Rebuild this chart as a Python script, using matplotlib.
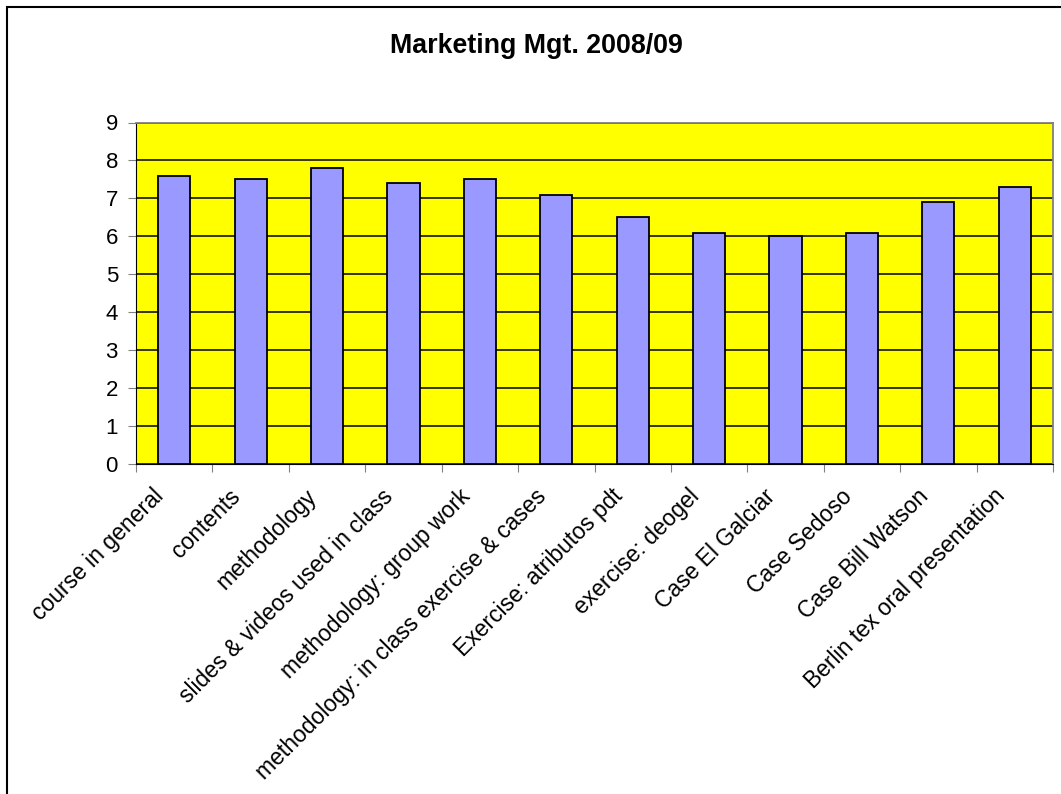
import numpy as np
import matplotlib.pyplot as plt
import matplotlib.transforms as mtransforms
from matplotlib.patches import Rectangle

plt.rcParams['font.family'] = ['Liberation Sans', 'DejaVu Sans']

categories = [
    'course in general', 'contents', 'methodology', 'slides & videos used in class',
    'methodology: group work', 'methodology: in class exercise & cases',
    'Exercise: atributos pdt', 'exercise: deogel', 'Case El Galciar',
    'Case Sedoso', 'Case Bill Watson', 'Berlin tex oral presentation',
]
scores = [7.6, 7.5, 7.8, 7.4, 7.5, 7.1, 6.5, 6.1, 6.0, 6.1, 6.9, 7.3]
yticks = list(range(0, 10))

fig = plt.figure(figsize=(10.61, 7.94), dpi=100)
fig.patch.set_facecolor('white')
# chart frame (left and top edges show, the rest runs off the canvas)
fig.add_artist(Rectangle((7 / 1061, -0.05), 1.2, 1 - 7 / 794 + 0.05,
                         transform=fig.transFigure, fill=False,
                         edgecolor='black', linewidth=1.5))

ax = fig.add_axes([136 / 1061, 1 - 464 / 794, (1053 - 136) / 1061, (464 - 122.5) / 794])
ax.set_facecolor('#FFFF00')

x = np.arange(len(categories))
ax.bar(x, scores, width=0.42, color='#9999FF', edgecolor='black', linewidth=1.3, zorder=3)

ax.set_xlim(-0.5, len(categories) - 0.5)
ax.set_ylim(0, 9)
ax.set_yticks(yticks)
ax.yaxis.grid(True, color='black', linewidth=1.1, zorder=1)
ax.set_axisbelow(True)

# tick marks sit between categories, labels under each bar
ax.set_xticks(np.arange(-0.5, len(categories)), minor=False)
ax.set_xticklabels([])
ax.set_xticks(x, minor=True)
ax.set_xticklabels(categories, minor=True, rotation=45, ha='right', va='baseline',
                   rotation_mode='anchor', fontsize=16.5)
ax.tick_params(axis='x', which='minor', length=0, pad=24)
ax.tick_params(axis='x', which='major', length=6, color='#808080')
ax.tick_params(axis='y', length=6, color='#808080', labelsize=16, pad=7)

# nudge the slanted labels a little to the left
shift = mtransforms.ScaledTranslation(-9 / 100, 0, fig.dpi_scale_trans)
for lbl in ax.get_xticklabels(minor=True):
    lbl.set_transform(lbl.get_transform() + shift)

for side in ['top', 'right']:
    ax.spines[side].set_color('#808080')
    ax.spines[side].set_linewidth(1.3)
ax.spines['left'].set_color('black')
ax.spines['bottom'].set_color('black')

fig.text(536 / 1061, 1 - 46 / 794, 'Marketing Mgt. 2008/09', ha='center', va='center',
         fontsize=19.3, fontweight='bold')

fig.savefig('out.png', dpi=100)
